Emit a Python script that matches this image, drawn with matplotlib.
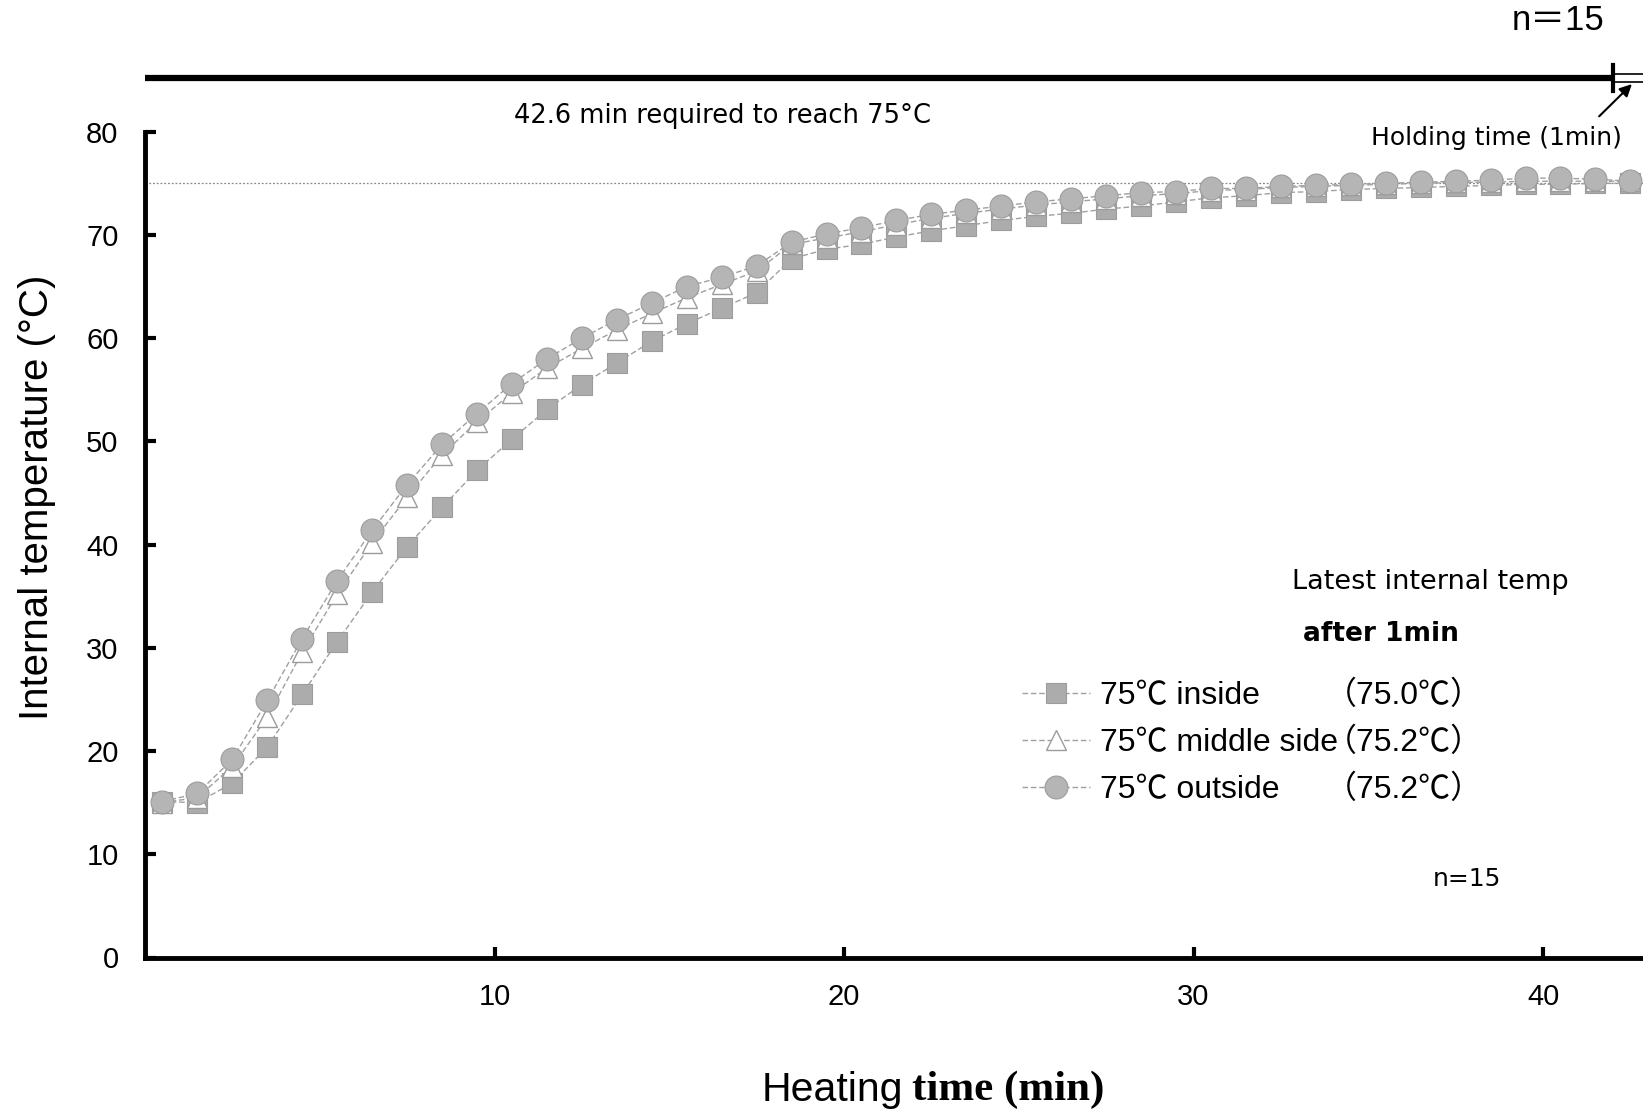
import matplotlib
matplotlib.use("Agg")
import matplotlib.pyplot as plt
from matplotlib.lines import Line2D

plt.rcParams['font.family'] = ['Liberation Sans', 'Noto Sans CJK JP', 'DejaVu Sans']

# heating time (min), measurement points sit in the middle of each minute
time_min = [i + 0.5 for i in range(43)]

inside = [15.1, 15.0, 16.9, 20.4, 25.5, 30.6, 35.4, 39.8, 43.6, 47.2,
          50.2, 53.1, 55.5, 57.6, 59.7, 61.4, 62.9, 64.4, 67.7, 68.6,
          69.1, 69.8, 70.4, 70.9, 71.4, 71.8, 72.1, 72.5, 72.8, 73.2,
          73.6, 73.8, 74.1, 74.2, 74.4, 74.5, 74.6, 74.7, 74.8, 74.9,
          74.9, 75.0, 75.0]

middle = [15.0, 15.5, 18.5, 23.3, 29.6, 35.2, 40.2, 44.6, 48.7, 51.9,
          54.7, 57.1, 59.0, 60.8, 62.4, 63.9, 65.2, 66.5, 69.1, 69.7,
          70.3, 71.0, 71.6, 72.1, 72.5, 72.9, 73.2, 73.5, 73.8, 74.0,
          74.3, 74.4, 74.6, 74.7, 74.8, 74.9, 75.0, 75.1, 75.1, 75.2,
          75.2, 75.2, 75.2]

outside = [15.1, 15.9, 19.2, 24.9, 30.9, 36.5, 41.4, 45.8, 49.7, 52.7,
           55.6, 58.0, 60.0, 61.8, 63.4, 65.0, 65.9, 67.0, 69.3, 70.1,
           70.7, 71.4, 72.0, 72.4, 72.8, 73.2, 73.5, 73.8, 74.1, 74.2,
           74.5, 74.5, 74.7, 74.8, 74.9, 75.0, 75.1, 75.2, 75.3, 75.5,
           75.5, 75.4, 75.2]

labels = ["75℃ inside", "75℃ middle side", "75℃ outside"]
final_values = ["（75.0℃）", "（75.2℃）", "（75.2℃）"]

TARGET = 75
REACH_TICK = 42.0
BAR_Y = 85.2

W, H = 1643, 1113
fig = plt.figure(figsize=(W / 100, H / 100), dpi=100)
ax = fig.add_axes([145 / W, 155.5 / H, 1498 / W, 825.8 / H])
ax.set_xlim(0, 1498 / 34.95)
ax.set_ylim(0, 80)

grey = '#acacac'
edge = '#9c9c9c'
line_kw = dict(color='#a0a0a0', lw=1.0, ls=(0, (4, 2)))

ax.plot(time_min, inside, marker='s', ms=14, mfc=grey, mec=edge, mew=0.8, **line_kw, zorder=3)
ax.plot(time_min, middle, marker='^', ms=15, mfc='white', mec=edge, mew=1.0, **line_kw, zorder=4)
ax.plot(time_min, outside, marker='o', ms=16.5, mfc='#b5b5b5', mec=edge, mew=0.8, **line_kw, zorder=5)

ax.axhline(TARGET, color='#888888', lw=0.9, ls=(0, (1.5, 1.5)), zorder=1)

for s in ['top', 'right']:
    ax.spines[s].set_visible(False)
for s in ['left', 'bottom']:
    ax.spines[s].set_linewidth(3.5)

ax.set_xticks([10, 20, 30, 40])
ax.set_yticks(range(0, 81, 10))
ax.tick_params(direction='in', length=8, width=3, labelsize=21, colors='black')
ax.tick_params(axis='x', pad=18.5)
ax.tick_params(axis='y', pad=19)

# time bar above the plot
ax.plot([0, REACH_TICK], [BAR_Y, BAR_Y], color='black', lw=4.5, clip_on=False, solid_capstyle='butt')
ax.plot([REACH_TICK, REACH_TICK], [BAR_Y - 1.3, BAR_Y + 1.3], color='black', lw=3, clip_on=False)
ax.plot([REACH_TICK, ax.get_xlim()[1]], [BAR_Y + 0.35, BAR_Y + 0.35], color='black', lw=1.2, clip_on=False)
ax.plot([REACH_TICK, ax.get_xlim()[1]], [BAR_Y - 0.35, BAR_Y - 0.35], color='black', lw=1.2, clip_on=False)
ax.annotate('', xy=(42.6, 84.8), xytext=(41.55, 81.3), annotation_clip=False,
            arrowprops=dict(arrowstyle='-|>', color='black', lw=1.5, mutation_scale=18))

wide = ['DejaVu Sans', 'Noto Sans CJK JP']
fig.text(1558 / W, 1 - 21 / H, "n＝15", fontsize=25, ha='center', va='center')
fig.text(722 / W, 1 - 116 / H, "42.6 min required to reach 75°C", fontsize=18.5, family=wide,
         ha='center', va='center')
fig.text(1622 / W, 1 - 138 / H, "Holding time (1min)", fontsize=18, family=wide, ha='right', va='center')
fig.text(1430 / W, 1 - 582 / H, "Latest internal temp", fontsize=19.5, family=wide, ha='center', va='center')
fig.text(1381 / W, 1 - 634 / H, "after 1min", fontsize=19, fontweight='bold', family=wide,
         ha='center', va='center')
fig.text(1467 / W, 1 - 879 / H, "n=15", fontsize=18, family=wide, ha='center', va='center')

handles = [
    Line2D([], [], marker='s', ms=14, mfc=grey, mec=edge, mew=0.8, **line_kw),
    Line2D([], [], marker='^', ms=15, mfc='white', mec=edge, mew=1.0, **line_kw),
    Line2D([], [], marker='o', ms=16.5, mfc='#b5b5b5', mec=edge, mew=0.8, **line_kw),
]
ax.legend(handles, labels, loc='upper left', bbox_to_anchor=(1022 / W, 1 - 681 / H),
          bbox_transform=fig.transFigure, frameon=False, fontsize=23,
          handlelength=2.13, handletextpad=0.3, labelspacing=0.53, borderpad=0, borderaxespad=0)
for k, v in enumerate(final_values):
    fig.text(1325 / W, 1 - (696 + 47 * k) / H, v, fontsize=23, ha='left', va='center')

ax.set_ylabel("Internal temperature (°C)", fontsize=29)
ax.yaxis.set_label_coords((56 - 145) / 1498, (1113 - 497 - 155.5) / 825.8)

fig.text(903 / W, 1 - 1090 / H, "Heating", fontsize=29.5, ha='right', va='center')
fig.text(912 / W, 1 - 1090 / H, "time (min)", fontsize=31, fontweight='bold',
         family=['Liberation Serif'], ha='left', va='center')

fig.savefig("out.png", dpi=100)
